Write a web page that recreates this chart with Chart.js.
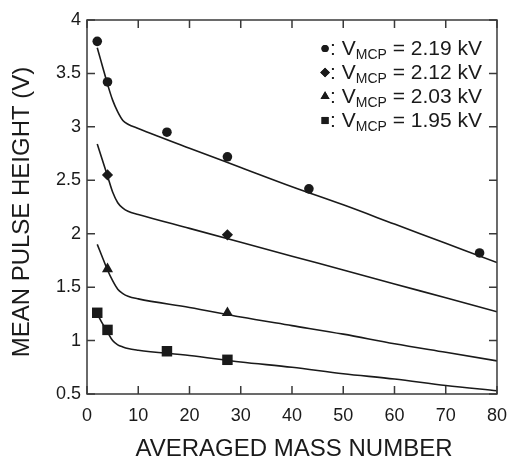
<!DOCTYPE html>
<html lang="en">
<head>
<meta charset="UTF-8">
<title>Mean Pulse Height vs Averaged Mass Number</title>
<script src="https://cdn.jsdelivr.net/npm/chart.js"></script>
<style>
  * { margin: 0; padding: 0; box-sizing: border-box; }
  body { background: #fff; width: 518px; height: 457px; overflow: hidden; }
  canvas { display: block; }
</style>
</head>
<body>
<canvas id="pulseChart" width="518" height="457"></canvas>
<script>
// measured points, one pair of arrays per MCP voltage
const circleMass = [2, 4, 15.6, 27.4, 43.3, 76.6];
const circleHeight = [3.80, 3.42, 2.95, 2.72, 2.42, 1.82];
const diamondMass = [4, 27.4];
const diamondHeight = [2.55, 1.99];
const triangleMass = [4, 27.4];
const triangleHeight = [1.67, 1.26];
const squareMass = [2, 4, 15.6, 27.4];
const squareHeight = [1.26, 1.10, 0.90, 0.82];

// fitted curves
const fitMass = [2, 3, 4, 5, 6, 7, 8, 10, 20, 30, 40, 50, 60, 70, 80];
const fit219 = [3.74, 3.57, 3.40, 3.25, 3.14, 3.06, 3.025, 2.985, 2.80, 2.62, 2.44, 2.27, 2.09, 1.91, 1.73];
const fit212 = [2.84, 2.69, 2.54, 2.39, 2.29, 2.24, 2.21, 2.18, 2.05, 1.92, 1.79, 1.66, 1.53, 1.40, 1.27];
const fit203 = [1.90, 1.78, 1.66, 1.56, 1.48, 1.44, 1.415, 1.39, 1.31, 1.22, 1.14, 1.06, 0.97, 0.89, 0.81];
const fit195 = [1.25, 1.16, 1.08, 1.00, 0.96, 0.94, 0.925, 0.91, 0.86, 0.80, 0.75, 0.69, 0.64, 0.58, 0.53];

const voltages = ['2.19', '2.12', '2.03', '1.95'];
const markerStyles = ['circle', 'rectRot', 'triangle', 'rect'];
const xTicks = [0, 10, 20, 30, 40, 50, 60, 70, 80];
const yTicks = [0.5, 1, 1.5, 2, 2.5, 3, 3.5, 4];

const FONT = '"Liberation Sans", Arial, sans-serif';
const INK = '#1a1a1a';
const AXIS = '#3a3a3a';

function pairs(xs, ys) {
    return xs.map((x, i) => ({ x: x, y: ys[i] }));
}

function markerSet(xs, ys, style, radius) {
    return {
        data: pairs(xs, ys),
        showLine: false,
        pointStyle: style,
        pointRadius: radius,
        pointBackgroundColor: INK,
        pointBorderColor: INK,
        pointBorderWidth: 0
    };
}

function fitSet(ys) {
    return {
        data: pairs(fitMass, ys),
        showLine: true,
        borderColor: INK,
        borderWidth: 1.6,
        pointRadius: 0,
        cubicInterpolationMode: 'monotone',
        fill: false
    };
}

// box with inward ticks, axis titles and the legend with subscripts
const framePlugin = {
    id: 'frame',
    afterDraw(chart) {
        const ctx = chart.ctx;
        const a = chart.chartArea;
        const xs = chart.scales.x, ys = chart.scales.y;
        ctx.save();
        ctx.strokeStyle = AXIS;
        ctx.lineWidth = 1.5;
        ctx.strokeRect(a.left, a.top, a.right - a.left, a.bottom - a.top);
        ctx.beginPath();
        xTicks.forEach(v => {
            const px = xs.getPixelForValue(v);
            ctx.moveTo(px, a.bottom); ctx.lineTo(px, a.bottom - 8);
            ctx.moveTo(px, a.top); ctx.lineTo(px, a.top + 8);
        });
        yTicks.forEach(v => {
            const py = ys.getPixelForValue(v);
            ctx.moveTo(a.left, py); ctx.lineTo(a.left + 8, py);
            ctx.moveTo(a.right, py); ctx.lineTo(a.right - 8, py);
        });
        ctx.stroke();

        // axis titles
        ctx.fillStyle = INK;
        ctx.font = '24px ' + FONT;
        ctx.textAlign = 'center';
        ctx.textBaseline = 'alphabetic';
        ctx.fillText('AVERAGED MASS NUMBER', 294, 456);
        ctx.save();
        ctx.translate(29, 212);
        ctx.rotate(-Math.PI / 2);
        ctx.fillText('MEAN PULSE HEIGHT (V)', 0, 0);
        ctx.restore();

        // legend
        const right = 482;
        const mainFont = '21px ' + FONT;
        const subFont = '14px ' + FONT;
        const legendRadius = [3.6, 4.8, 5.2, 5];
        voltages.forEach((v, i) => {
            const base = 55 + i * 24;
            const tail = ' = ' + v + ' kV';
            ctx.font = mainFont;
            const wColon = ctx.measureText(': V').width;
            const wTail = ctx.measureText(tail).width;
            ctx.font = subFont;
            const wSub = ctx.measureText('MCP').width;
            let x = right - wTail - wSub - wColon;
            Chart.helpers.drawPoint(ctx, {
                pointStyle: markerStyles[i],
                radius: legendRadius[i],
                borderWidth: 0
            }, x - 5, base - 6.5);
            ctx.fillStyle = INK;
            ctx.fill();
            ctx.textAlign = 'left';
            ctx.font = mainFont;
            ctx.fillText(': V', x, base);
            x += wColon;
            ctx.font = subFont;
            ctx.fillText('MCP', x, base + 4);
            x += wSub;
            ctx.font = mainFont;
            ctx.fillText(tail, x, base);
        });
        ctx.restore();
    }
};

const tickFont = { family: FONT, size: 18 };

new Chart(document.getElementById('pulseChart'), {
    type: 'scatter',
    data: {
        datasets: [
            markerSet(circleMass, circleHeight, markerStyles[0], 4.8),
            markerSet(diamondMass, diamondHeight, markerStyles[1], 5.6),
            markerSet(triangleMass, triangleHeight, markerStyles[2], 6.4),
            markerSet(squareMass, squareHeight, markerStyles[3], 7.4),
            fitSet(fit219),
            fitSet(fit212),
            fitSet(fit203),
            fitSet(fit195)
        ]
    },
    options: {
        responsive: false,
        animation: false,
        layout: { padding: { top: 20, right: 14, bottom: 0, left: 0 } },
        plugins: {
            legend: { display: false },
            tooltip: { enabled: false }
        },
        scales: {
            x: {
                type: 'linear',
                min: 0,
                max: 80,
                afterFit: s => { s.height = 63; },
                grid: { display: false, drawTicks: false },
                border: { display: false },
                ticks: { stepSize: 10, padding: 11, font: tickFont, color: INK, maxRotation: 0 }
            },
            y: {
                type: 'linear',
                min: 0.5,
                max: 4,
                afterFit: s => { s.width = 87; },
                grid: { display: false, drawTicks: false },
                border: { display: false },
                ticks: {
                    stepSize: 0.5, padding: 6, font: tickFont, color: INK,
                    callback: v => String(v)
                }
            }
        }
    },
    plugins: [framePlugin]
});
</script>
</body>
</html>
